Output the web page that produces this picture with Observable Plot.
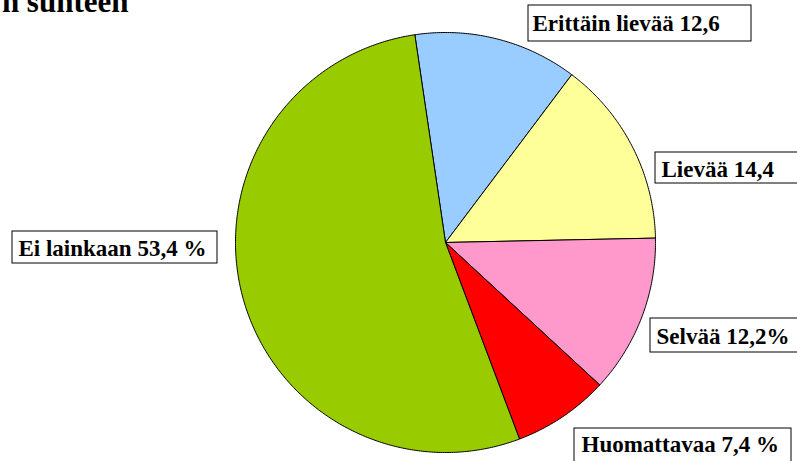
<!DOCTYPE html>
<html>
<head>
<meta charset="utf-8">
<script src="https://cdn.jsdelivr.net/npm/d3@7"></script>
<script src="https://cdn.jsdelivr.net/npm/@observablehq/plot@0.6"></script>
<style>
  html, body { margin: 0; padding: 0; background: #fff; overflow: hidden; }
  #chart svg { display: block; }
</style>
</head>
<body>
<div id="chart"></div>
<script>
// ---- Data ----
const titleText = "n suhteen";
const categories = ["Erittäin lievää", "Lievää", "Selvää", "Huomattavaa", "Ei lainkaan"];
const values = [12.6, 14.4, 12.2, 7.4, 53.4];
const labelTexts = ["Erittäin lievää 12,6", "Lievää 14,4", "Selvää 12,2%", "Huomattavaa 7,4 %", "Ei lainkaan 53,4 %"];

// ---- Layout (pixels) ----
const W = 797, H = 461;
const CX = 445, CY = 242, R = 210;
const startDeg = -8.4;
const ux = px => (px - CX) / R;
const uy = py => (CY - py) / R;
// label boxes [left, right, top, bottom], text start x, baseline y
const boxes = [
  [528, 751, 5, 41, 532, 30],
  [655, 805, 152, 183, 661, 176],
  [650, 805, 318, 352, 656, 343],
  [574, 791, 428, 475, 581, 451],
  [12, 217, 231, 263, 18, 255]
];

// ---- Slice polygons from data ----
const total = d3.sum(values);
const pts = [];
let acc = 0;
categories.forEach((c, i) => {
  const a0 = (startDeg + acc / total * 360) * Math.PI / 180;
  acc += values[i];
  const a1 = (startDeg + acc / total * 360) * Math.PI / 180;
  pts.push({cat: c, x: 0, y: 0});
  const n = Math.max(2, Math.ceil((a1 - a0) / (Math.PI / 360)));
  for (let k = 0; k <= n; k++) {
    const a = a0 + (a1 - a0) * k / n;
    pts.push({cat: c, x: Math.sin(a), y: Math.cos(a)});
  }
  pts.push({cat: c, x: 0, y: 0});
});

const labels = labelTexts.map((t, i) => ({
  text: t,
  x1: ux(boxes[i][0]), x2: ux(boxes[i][1]),
  y1: uy(boxes[i][2]), y2: uy(boxes[i][3]),
  tx: ux(boxes[i][4]), ty: uy(boxes[i][5])
}));

const font = "'Liberation Serif', 'Times New Roman', Times, serif";

const plot = Plot.plot({
  width: W,
  height: H,
  margin: 0,
  x: {domain: [ux(0), ux(W)], axis: null},
  y: {domain: [uy(H), uy(0)], axis: null},
  color: {domain: categories, range: ["#99CCFF", "#FFFF99", "#FF99CC", "#FF0000", "#99CC00"]},
  style: {fontFamily: font, background: "#fff", overflow: "hidden"},
  marks: [
    Plot.line(pts, {x: "x", y: "y", z: "cat", fill: "cat", stroke: "#000", strokeWidth: 1, curve: "linear"}),
    Plot.rect(labels, {x1: "x1", x2: "x2", y1: "y1", y2: "y2", fill: "#fff", stroke: "#000", strokeWidth: 1, inset: 0}),
    Plot.text(labels, {x: "tx", y: "ty", text: "text", textAnchor: "start", lineAnchor: "bottom", fontSize: 23, fontWeight: "bold", fill: "#000"}),
    Plot.text([titleText], {x: ux(128), y: uy(11), text: d => d, textAnchor: "end", lineAnchor: "bottom", fontSize: 31, fontWeight: "bold", fill: "#000"})
  ]
});
document.getElementById("chart").appendChild(plot);
</script>
</body>
</html>
